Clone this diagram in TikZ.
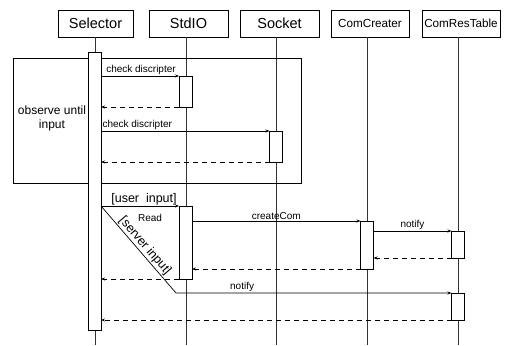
\documentclass[tikz,border=0pt]{standalone}
\usepackage{fontspec}
\setmainfont{Liberation Sans}
\usetikzlibrary{arrows.meta}
\begin{document}
\begin{tikzpicture}[x=1pt,y=-1pt,
  every node/.style={inner sep=0pt, outer sep=0pt},
  head/.style={draw, line width=0.8pt, minimum height=27pt, minimum width=79pt, fill=white},
  bigtxt/.style={font=\fontsize{14.5}{16}\selectfont},
  smalltxt/.style={font=\fontsize{11.7}{13}\selectfont},
  act/.style={draw, line width=0.8pt, fill=white, minimum width=13pt},
  life/.style={line width=0.8pt, draw=black!80},
  msg/.style={line width=0.7pt, -{Stealth[length=4pt,width=3pt]}},
  ret/.style={line width=0.7pt, dash pattern=on 5pt off 4pt, -{Stealth[length=4pt,width=3pt]}},
  lbl/.style={font=\fontsize{10}{12}\selectfont, inner sep=1.5pt},
]
\useasboundingbox (0,0) rectangle (505,345);

% participant heads
\node[head, bigtxt, minimum width=75pt] (sel) at (95.5,23.5) {Selector};
\node[head, bigtxt] (std) at (188.5,23.5) {StdIO};
\node[head, bigtxt] (sock) at (279.5,23.5) {Socket};
\node[head, smalltxt, minimum width=78pt] (crt) at (370,23.5) {ComCreater};
\node[head, smalltxt, minimum width=78pt] (tab) at (461,23.5) {ComResTable};

% lifelines
\coordinate (selTop) at (95,37);   \coordinate (selEnd) at (95,345);
\coordinate (stdTop) at (186,37);  \coordinate (stdEnd) at (186,345);
\coordinate (sockTop) at (276,37); \coordinate (sockEnd) at (276,345);
\coordinate (crtTop) at (367,37);  \coordinate (crtEnd) at (367,345);
\coordinate (tabTop) at (458,37);  \coordinate (tabEnd) at (458,345);
\draw[life] (selTop) -- (selEnd);
\draw[life] (stdTop) -- (stdEnd);
\draw[life] (sockTop) -- (sockEnd);
\draw[life] (crtTop) -- (crtEnd);
\draw[life] (tabTop) -- (tabEnd);

% loop frame
\node[draw, line width=0.8pt, minimum width=288pt, minimum height=125pt] (frame) at (157,120.5) {};
\node[font=\fontsize{12}{14}\selectfont, align=center] (cond) at (52,118) {observe until\\input};

% activations
\node[act, minimum height=278pt] (selAct) at (94.5,191) {};
\node[act, minimum height=31pt] (stdA) at (185.5,91.5) {};
\node[act, minimum height=31pt] (sockA) at (276,146.5) {};
\node[act, minimum height=73pt] (stdB) at (185.5,242.5) {};
\node[act, minimum height=48pt] (crtA) at (367,245) {};
\node[act, minimum height=27pt] (tabA) at (458,244.5) {};
\node[act, minimum height=27pt] (tabB) at (458,306.5) {};

% polling inside the loop
\draw[msg] (selAct.east |- stdA.north) -- node[lbl, above, xshift=1pt] (m1) {check discripter} (stdA.north west);
\draw[ret] (stdA.south west) -- (selAct.east |- stdA.south);
\draw[msg] (selAct.east |- sockA.north) -- (sockA.north west);
\node[lbl, anchor=south west] (m2) at (selAct.east |- sockA.north) {check discripter};
\draw[ret] (sockA.south west) -- (selAct.east |- sockA.south);

% user input branch
\draw[msg] (selAct.east |- stdB.north) -- node[font=\fontsize{12.5}{14}\selectfont, above, inner sep=1pt, xshift=4pt] (g1) {[user\ \ input]} (stdB.north west);
\node[lbl] (rd) at (150,218) {Read};
\draw[msg] (stdB.east |- crtA.north) -- node[lbl, above] (m3) {createCom} (crtA.north west);
\draw[msg] (crtA.east |- tabA.north) -- node[lbl, above] (m4) {notify} (tabA.north west);
\draw[ret] (tabA.south west) -- (crtA.east |- tabA.south);
\draw[ret] (crtA.south west) -- (stdB.east |- crtA.south);
\draw[ret] (stdB.south west) -- (selAct.east |- stdB.south);

% server input branch
\coordinate (bend) at (176,293);
\draw[msg] (selAct.east |- stdB.north) -- (bend) -- node[lbl, above, pos=0.24] (m5) {notify} (tabB.north west);
\node[font=\fontsize{12.5}{14}\selectfont, rotate=-49.3] (g2) at (145,246) {[server input]};
\draw[ret] (tabB.south west) -- (selAct.east |- tabB.south);

\end{tikzpicture}
\end{document}
